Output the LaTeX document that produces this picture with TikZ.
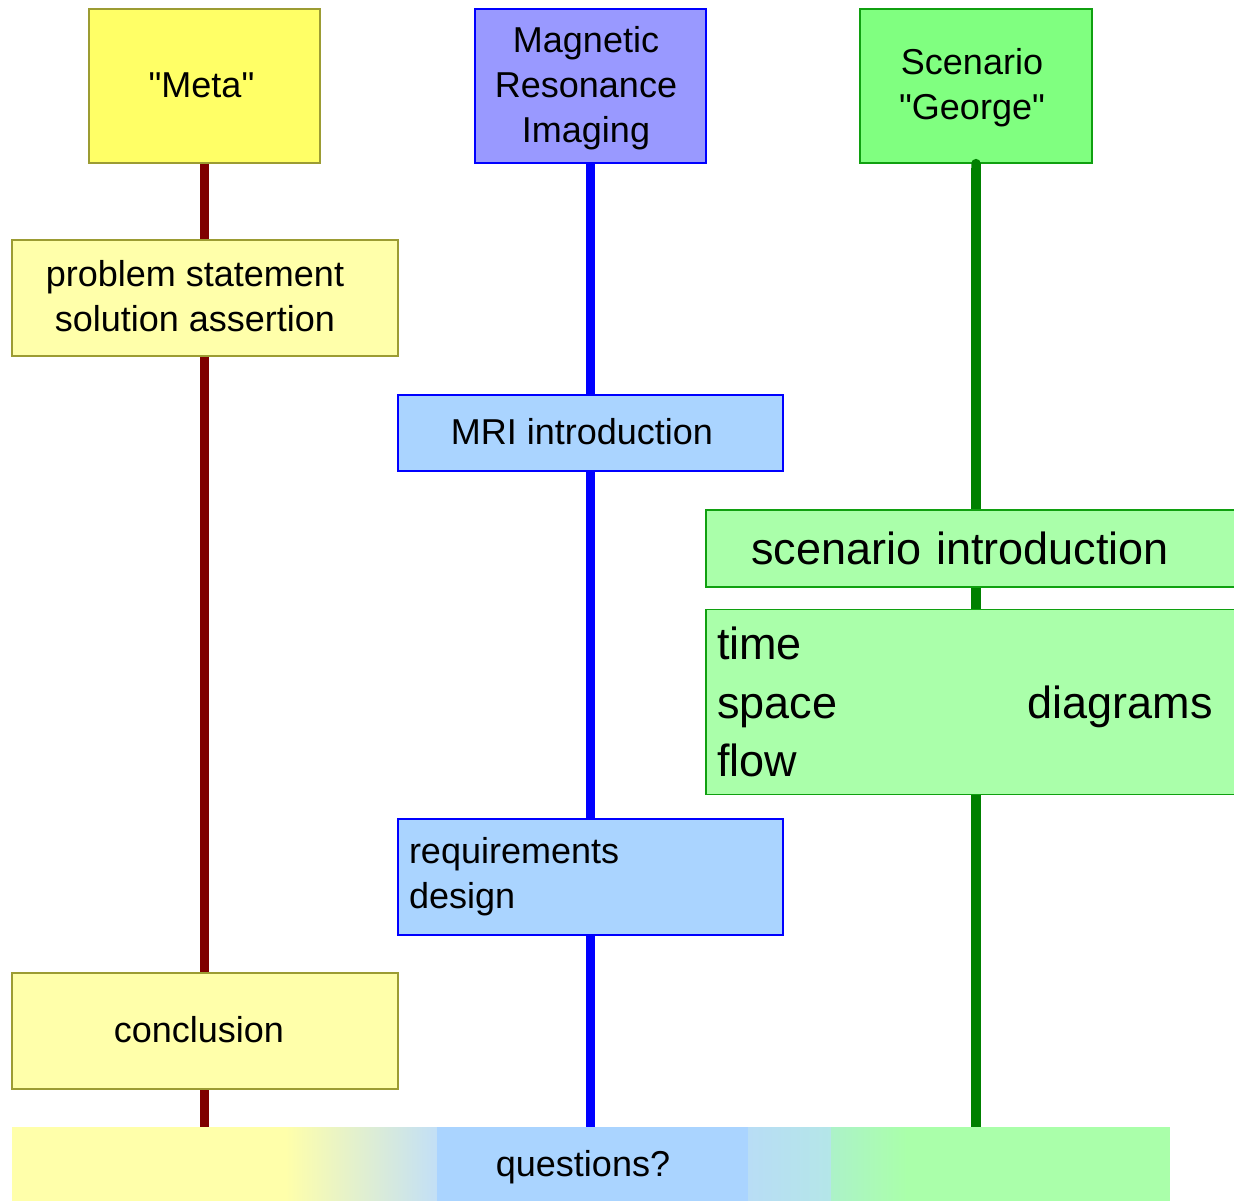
\documentclass[tikz,border=0pt]{standalone}
\usepackage{fontspec}
\setmainfont{Liberation Sans}
% a family without the TeX character mapping, so " stays a straight quote
\newfontfamily\libsans{Liberation Sans}
\usetikzlibrary{arrows.meta}

\definecolor{metafill}{HTML}{FFFF66}
\definecolor{oliveedge}{HTML}{9C9C33}
\definecolor{mrifill}{HTML}{9999FF}
\definecolor{scenfill}{HTML}{80FF80}
\definecolor{greenedge}{HTML}{10A010}
\definecolor{paleyellow}{HTML}{FFFFAA}
\definecolor{paleblue}{HTML}{AAD4FF}
\definecolor{palegreen}{HTML}{AAFFAA}
\definecolor{metaline}{HTML}{800000}
\definecolor{mriline}{HTML}{0000FF}
\definecolor{scenline}{HTML}{008000}
\definecolor{mixblue}{HTML}{C2DFF6}
\definecolor{cyanA}{HTML}{B8DDF5}
\definecolor{cyanB}{HTML}{B4E6E8}
\definecolor{mintA}{HTML}{ACF2C8}

% centred lines, with extra room on the right to pull them a little left,
% set 2pt lower without changing the box size
\newcommand\padright[2]{\raisebox{-2pt}[\height][\depth]{%
  \begin{tabular}{@{}c@{\hspace{#1}}}#2\end{tabular}}}

\tikzset{
  box/.style={draw, line width=1.2pt, inner sep=0pt, align=center,
              font=\libsans\fontsize{36}{45}\selectfont},
  yellowbox/.style={box, fill=paleyellow, draw=oliveedge},
  bluebox/.style={box, fill=paleblue, draw=mriline},
  greenbox/.style={box, fill=palegreen, draw=greenedge},
  track/.style={line width=9.5pt},
}

\begin{document}
\begin{tikzpicture}[x=1pt,y=-1pt]
\clip (0,0) rectangle (1234,1200);

% shared closing bar
\fill[paleyellow] (12,1127) rectangle (286,1210);
\shade[left color=paleyellow, right color=mixblue] (285,1127) rectangle (438,1210);
\fill[paleblue] (437,1127) rectangle (749,1210);
\shade[left color=cyanA, right color=cyanB] (748,1127) rectangle (832,1210);
\shade[left color=mintA, right color=palegreen] (831,1127) rectangle (907,1210);
\fill[palegreen] (906,1127) rectangle (1170,1210);
\node[font=\libsans\fontsize{36}{45}\selectfont, inner sep=0pt,
      minimum width=1158pt, minimum height=76pt] (bar) at (591,1165)
  {\padright{16pt}{questions?}};

% track heads
\node[box, fill=metafill, draw=oliveedge, minimum width=231pt, minimum height=154pt]
  (meta) at (204.5,86) {\padright{6pt}{"Meta"}};
\node[box, fill=mrifill, draw=mriline, minimum width=231pt, minimum height=154pt]
  (mri) at (590.5,86) {\padright{9pt}{Magnetic\\Resonance\\Imaging}};
\node[box, fill=scenfill, draw=greenedge, minimum width=232pt, minimum height=154pt]
  (scen) at (976,86) {\padright{8pt}{Scenario\\"George"}};

% tracks
\draw[track, metaline] (meta.south) -- (meta.south |- bar.north);
\draw[track, mriline] (mri.south) -- (mri.south |- bar.north);
\draw[track, scenline, {Round Cap[]}-, shorten <=-4.75pt]
  (scen.south) -- (scen.south |- bar.north);

% meta track
\node[yellowbox, minimum width=386pt, minimum height=116pt] (prob) at (205,298)
  {\padright{20pt}{problem statement\\solution assertion}};
\node[yellowbox, minimum width=386pt, minimum height=116pt] (concl) at (205,1031)
  {\padright{12pt}{conclusion}};

% MRI track
\node[bluebox, minimum width=385pt, minimum height=76pt] (mriintro) at (590.5,433)
  {\padright{17pt}{MRI introduction}};
\node[bluebox, align=left, inner xsep=11pt, text width=363pt, minimum height=116pt]
  (req) at (590.5,877) {requirements\\design};

% scenario track
\node[greenbox, align=left, inner xsep=45pt, text width=464pt, minimum height=77pt,
      font=\libsans\fontsize{45}{56}\selectfont] (scenintro) at (983,548.5)
  {scenario introduction};
\node[greenbox, align=left, inner xsep=11pt, text width=532pt, minimum height=185pt,
      font=\libsans\fontsize{45}{58.5}\selectfont] (views) at (983,702)
  {time\\space\hfill diagrams\hspace*{36pt}\null\\flow};
\end{tikzpicture}
\end{document}
